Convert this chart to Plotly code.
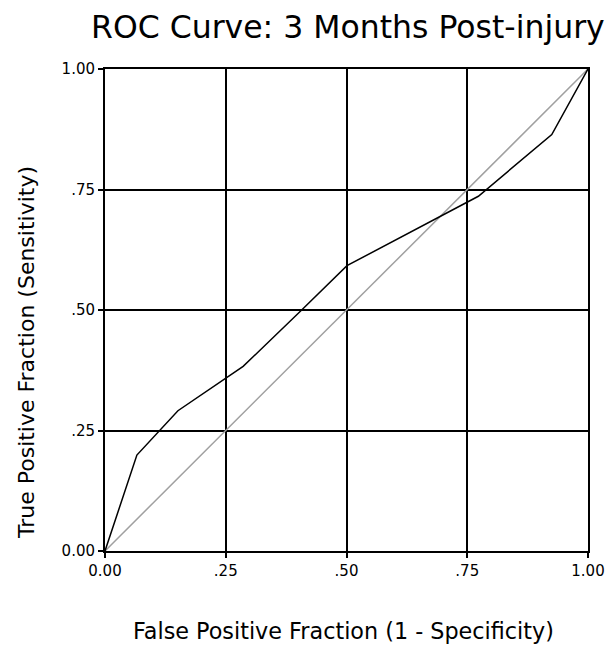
import plotly.graph_objects as go

# ROC curve values
fpr = [0.0, 0.066, 0.151, 0.286, 0.404, 0.501, 0.773, 0.925, 1.0]
tpr = [0.0, 0.199, 0.291, 0.383, 0.497, 0.592, 0.736, 0.864, 1.0]

# reference (chance) diagonal
diag_x = [0.0, 1.0]
diag_y = [0.0, 1.0]

tick_vals = [0.0, 0.25, 0.5, 0.75, 1.0]
tick_text = ["0.00", ".25", ".50", ".75", "1.00"]

FONT = "DejaVu Sans"

fig = go.Figure()
fig.add_trace(go.Scatter(x=diag_x, y=diag_y, mode="lines",
                         line=dict(color="#a0a0a0", width=1.5),
                         hoverinfo="skip", showlegend=False))
fig.add_trace(go.Scatter(x=fpr, y=tpr, mode="lines",
                         line=dict(color="black", width=1.5),
                         showlegend=False))

axis_common = dict(
    range=[0, 1],
    tickmode="array",
    tickvals=tick_vals,
    ticktext=tick_text,
    ticks="outside",
    ticklen=5,
    tickwidth=1.5,
    tickcolor="black",
    showline=True,
    linecolor="black",
    linewidth=2,
    mirror=True,
    showgrid=True,
    gridcolor="black",
    gridwidth=1.5,
    zeroline=False,
    automargin=False,
    tickfont=dict(family=FONT, size=15, color="black"),
    fixedrange=True,
)

fig.update_layout(
    width=608,
    height=647,
    margin=dict(l=105, r=20, t=69, b=96),
    paper_bgcolor="white",
    plot_bgcolor="white",
    font=dict(family=FONT, color="black"),
    xaxis=axis_common,
    yaxis=axis_common,
    title=dict(
        text="ROC Curve: 3 Months Post-injury",
        font=dict(family=FONT, size=31.5, color="black"),
        xref="container", yref="container",
        x=91 / 608, xanchor="left",
        y=1 - 27 / 647, yanchor="middle",
        automargin=False,
    ),
    annotations=[
        dict(text="False Positive Fraction (1 - Specificity)",
             xref="paper", yref="paper",
             x=(343 - 105) / 483, y=-(631 - 551) / 482,
             xanchor="center", yanchor="middle", showarrow=False,
             font=dict(family=FONT, size=22.3, color="black")),
        dict(text="True Positive Fraction (Sensitivity)",
             xref="paper", yref="paper",
             x=-(105 - 26) / 483, y=(551 - 353) / 482,
             xanchor="center", yanchor="middle", showarrow=False,
             textangle=-90,
             font=dict(family=FONT, size=22, color="black")),
    ],
)

fig.write_html("out.html", config={"displayModeBar": False},
               post_script="document.body.style.margin='0px';")
